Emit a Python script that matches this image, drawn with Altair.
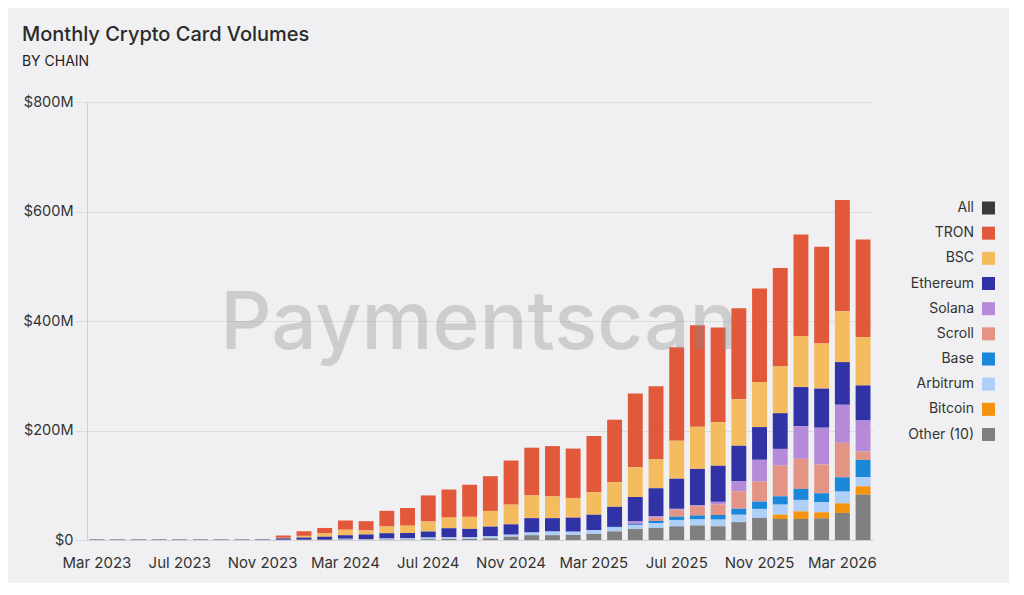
import altair as alt
import pandas as pd

months = [
    "Mar 2023", "Apr 2023", "May 2023", "Jun 2023", "Jul 2023", "Aug 2023",
    "Sep 2023", "Oct 2023", "Nov 2023", "Dec 2023", "Jan 2024", "Feb 2024",
    "Mar 2024", "Apr 2024", "May 2024", "Jun 2024", "Jul 2024", "Aug 2024",
    "Sep 2024", "Oct 2024", "Nov 2024", "Dec 2024", "Jan 2025", "Feb 2025",
    "Mar 2025", "Apr 2025", "May 2025", "Jun 2025", "Jul 2025", "Aug 2025",
    "Sep 2025", "Oct 2025", "Nov 2025", "Dec 2025", "Jan 2026", "Feb 2026",
    "Mar 2026", "Apr 2026",
]
tick_labels = ["Mar 2023", "Jul 2023", "Nov 2023", "Mar 2024", "Jul 2024",
               "Nov 2024", "Mar 2025", "Jul 2025", "Nov 2025", "Mar 2026"]

# values in $M, one per month (Mar 2023 .. Apr 2026)
tron = [0, 0, 0, 0, 0, 0, 0, 0, 0, 4.2, 8.5, 10, 17, 17, 28.7, 32.3, 47.6, 51.2,
        58.6, 63.4, 80.5, 87.2, 92, 90.2, 103, 114, 134.8, 134, 170.8, 185.4,
        173.3, 166, 170.9, 179.9, 185.5, 176.8, 203.1, 178.2]
bsc = [0, 0, 0, 0, 0, 0, 0, 0, 0, 1, 3, 6, 10, 7.3, 12.2, 13.4, 18.3, 19.5,
       22, 28.7, 36, 41.5, 39.6, 36, 40.8, 45.1, 54.3, 52.5, 69.5, 76.9,
       79.3, 85, 82.3, 85.4, 93.3, 82.3, 92.8, 88.4]
ethereum = [0.6, 0.6, 0.6, 0.6, 0.6, 0.6, 0.6, 0.6, 0.7, 2.5, 4, 5.5, 6.5, 8.5,
            9.7, 9.7, 11, 16.5, 15.3, 17.7, 18.9, 26.2, 24.4, 25.6, 28, 36.6,
            44.5, 51.2, 55, 66.5, 65.9, 65, 59.7, 65.2, 71.4, 71.4, 77.9, 64]
solana = [0, 0, 0, 0, 0, 0, 0, 0, 0, 0, 0, 0, 0, 0, 0, 0, 0, 0, 0, 0, 0, 0, 0,
          0, 0, 0, 5, 2.5, 1.5, 1.5, 5, 18, 39.7, 30.5, 59.7, 67.2, 69.5, 56.7]
scroll = [0, 0, 0, 0, 0, 0, 0, 0, 0, 0, 0, 0, 0, 0, 0, 0, 0, 0, 0, 0, 0, 0, 0,
          0, 0, 0, 0, 6, 12.8, 17, 19, 32, 36.6, 56.1, 54.9, 52.5, 62.9, 15.2]
base = [0, 0, 0, 0, 0, 0, 0, 0, 0, 0, 0, 0, 0, 0, 0, 0, 0, 0, 0, 0, 0, 0, 0,
        0, 0, 1, 2, 3.7, 6, 7.3, 8.5, 11, 13.4, 15.2, 20.1, 16.5, 26.2, 31.8]
arbitrum = [0, 0, 0, 0, 0, 0, 0, 0, 0, 0, 0, 0, 1.5, 1, 2, 2.5, 3, 3, 3, 3.7,
            3.7, 4.9, 6.7, 6.1, 7.3, 7.3, 7, 9.1, 11.6, 11, 12.2, 13.5, 16.5,
            18.3, 20.9, 18.3, 21.4, 16.5]
bitcoin = [0, 0, 0, 0, 0, 0, 0, 0, 0, 0, 0, 0, 0, 0, 0, 0, 0, 0, 0, 0, 0, 0, 0,
           0, 0, 0, 0, 0, 0, 0, 0, 0, 0, 7.9, 13.9, 11, 17.6, 15.2]
other = [0.8, 0.8, 0.8, 0.8, 0.8, 0.8, 0.8, 0.8, 0.8, 0.5, 0.5, 0.5, 0.7, 0.6,
         0.7, 0.6, 1.5, 2, 2, 3, 6, 8.8, 8.8, 9.1, 11, 15.7, 20, 22, 25, 26.5,
         25, 32.6, 40.3, 38.4, 38.4, 39.6, 49.4, 82.9]

legend_order = ["All", "TRON", "BSC", "Ethereum", "Solana", "Scroll", "Base",
                "Arbitrum", "Bitcoin", "Other (10)"]
colors = ["#3a3a3c", "#e1583a", "#f4bc5f", "#3032a6", "#b58ad8", "#e49484",
          "#1b87d8", "#adcff8", "#f5930f", "#7f7f7f"]

series = {
    "TRON": tron, "BSC": bsc, "Ethereum": ethereum, "Solana": solana,
    "Scroll": scroll, "Base": base, "Arbitrum": arbitrum, "Bitcoin": bitcoin,
    "Other (10)": other,
}

rows = []
for chain, vals in series.items():
    rank = len(legend_order) - legend_order.index(chain)  # Other lowest
    for m, v in zip(months, vals):
        rows.append({"month": m, "chain": chain, "value": v, "rank": rank})
df = pd.DataFrame(rows)
df_leg = pd.DataFrame({"chain": legend_order})

color_scale = alt.Scale(domain=legend_order, range=colors)

bars = alt.Chart(df).mark_bar().encode(
    x=alt.X("month:O", sort=months,
            scale=alt.Scale(paddingInner=0.28, paddingOuter=0.12),
            axis=alt.Axis(values=tick_labels, labelAngle=0, ticks=False,
                          title=None, domainColor="#cfcfd4", labelPadding=15,
                          labelFontSize=15, labelColor="#333333")),
    y=alt.Y("value:Q", stack="zero",
            scale=alt.Scale(domain=[0, 800], nice=False),
            axis=alt.Axis(values=[0, 200, 400, 600, 800], title=None,
                          labelExpr="datum.value == 0 ? '$0' : '$' + datum.value + 'M'",
                          gridColor="#dcdce0", tickColor="#dcdce0", tickSize=12,
                          domainColor="#cfcfd4", labelPadding=2,
                          labelFontSize=14.5, labelColor="#333333")),
    color=alt.Color("chain:N", scale=color_scale, legend=None),
    order=alt.Order("rank:Q", sort="ascending"),
)

watermark = alt.Chart(pd.DataFrame({"t": ["Paymentscan"]})).mark_text(
    fontSize=80, font="Inter", fontWeight=500, color="#8e8e92", opacity=0.35,
    align="center", baseline="alphabetic"
).encode(text="t:N", x=alt.value(392), y=alt.value(247))

leg_y = alt.Y("chain:N", sort=legend_order,
              scale=alt.Scale(domain=legend_order, range=[106, 332.5], padding=0),
              axis=None)

leg_sq = alt.Chart(df_leg).mark_square(size=169, opacity=1, cornerRadius=1).encode(
    y=leg_y, x=alt.value(901.5),
    color=alt.Color("chain:N", scale=color_scale, legend=None),
)
leg_txt = alt.Chart(df_leg).mark_text(
    align="right", baseline="middle", fontSize=14, color="#333333"
).encode(y=leg_y, x=alt.value(887), text="chain:N")

chart = alt.layer(bars, watermark, leg_sq, leg_txt).resolve_scale(
    y="independent"
).properties(
    width=786, height=438,
    title=alt.TitleParams(
        "Monthly Crypto Card Volumes", subtitle="BY CHAIN", anchor="start",
        fontSize=20, fontWeight=500, color="#2b2b2b", font="Inter",
        subtitleFont="Inter", subtitleFontSize=14, subtitleFontWeight=400,
        subtitleColor="#222222", subtitlePadding=10, offset=25, dx=-1,
    ),
    padding={"left": 13, "top": 17, "right": 14, "bottom": 13},
).configure(
    background="#f0f0f2", font="Inter",
).configure_view(stroke=None)

chart.save("out.html", embed_options={"renderer": "svg", "actions": False})
